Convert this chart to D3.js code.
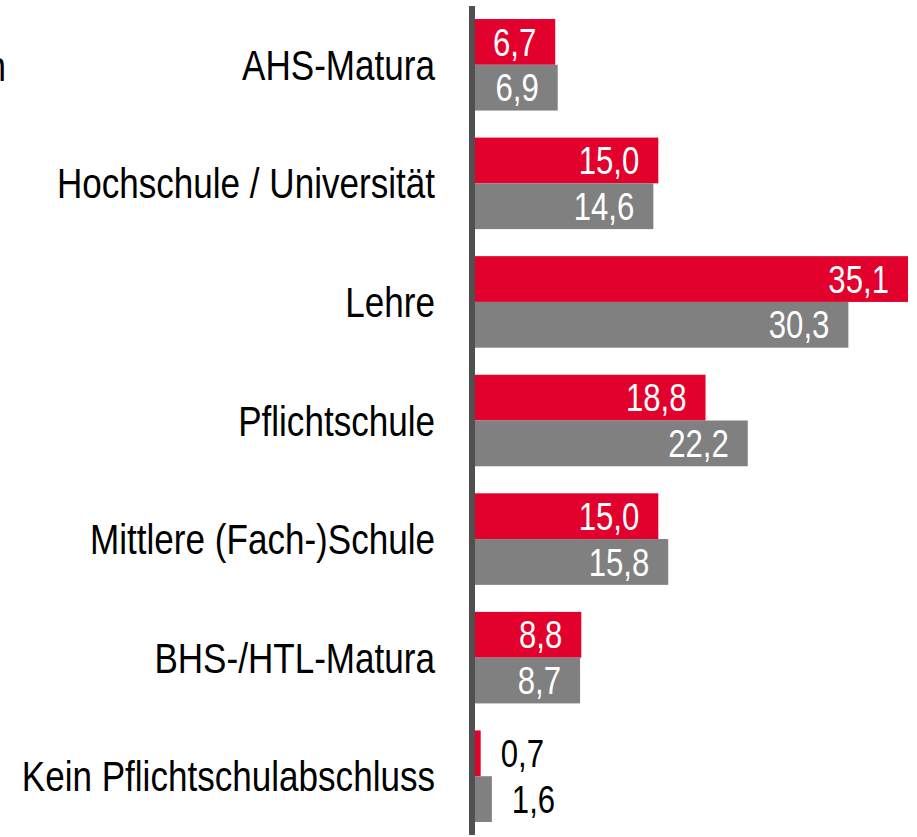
<!DOCTYPE html>
<html>
<head>
<meta charset="utf-8">
<script src="https://cdn.jsdelivr.net/npm/d3@7"></script>
<style>
  body { margin: 0; background: #fff; }
  svg { display: block; font-family: "Liberation Sans", Arial, sans-serif; }
</style>
</head>
<body>
<svg id="chart"></svg>
<script>
const width = 917;
const height = 837;

const categories = [
  "AHS-Matura",
  "Hochschule / Universität",
  "Lehre",
  "Pflichtschule",
  "Mittlere (Fach-)Schule",
  "BHS-/HTL-Matura",
  "Kein Pflichtschulabschluss"
];
const seriesNames = ["A", "B"];
const valuesA = [6.7, 15.0, 35.1, 18.8, 15.0, 8.8, 0.7];
const valuesB = [6.9, 14.6, 30.3, 22.2, 15.8, 8.7, 1.6];
const colors = ["#e2002c", "#808080"];

// no narrow font installed, so squeeze the regular one
const narrow = 0.835;

const rows = categories.map((c, i) => ({
  category: c,
  values: [
    { key: seriesNames[0], value: valuesA[i] },
    { key: seriesNames[1], value: valuesB[i] }
  ]
}));

const svg = d3.select("#chart")
  .attr("width", width)
  .attr("height", height);

const y = d3.scaleBand()
  .domain(categories)
  .range([5.5, 835.5])
  .paddingInner(0.228)
  .paddingOuter(0.114);

const ySub = d3.scaleBand()
  .domain(seriesNames)
  .range([0, y.bandwidth()]);

const x = d3.scaleLinear()
  .domain([0, 35.1])
  .range([472, 908]);

const fmt = v => d3.format(".1f")(v).replace(".", ",");

// cut-off legend text at the left edge
svg.append("text")
  .attr("transform", `translate(6,81) scale(${narrow},1)`)
  .attr("text-anchor", "end")
  .attr("font-size", 42)
  .attr("fill", "#000")
  .text("Frauen");

const group = svg.selectAll("g.row")
  .data(rows)
  .join("g")
  .attr("class", "row")
  .attr("transform", d => `translate(0,${y(d.category)})`);

group.selectAll("rect")
  .data(d => d.values)
  .join("rect")
  .attr("x", x(0))
  .attr("y", d => ySub(d.key))
  .attr("width", d => x(d.value) - x(0))
  .attr("height", ySub.bandwidth())
  .attr("fill", (d, i) => colors[i]);

group.selectAll("text.val")
  .data(d => d.values)
  .join("text")
  .attr("class", "val")
  .attr("transform", d => {
    const tx = d.value < 3 ? x(d.value) + 20 : x(d.value) - 19;
    const ty = ySub(d.key) + ySub.bandwidth() / 2;
    return `translate(${tx},${ty}) scale(0.82,1)`;
  })
  .attr("dy", "0.36em")
  .attr("text-anchor", d => d.value < 3 ? "start" : "end")
  .attr("font-size", 38)
  .attr("fill", d => d.value < 3 ? "#000" : "#fff")
  .text(d => fmt(d.value));

// category labels
svg.append("g")
  .selectAll("text")
  .data(categories)
  .join("text")
  .attr("transform", d => `translate(435,${y(d) + y.bandwidth() / 2}) scale(${narrow},1)`)
  .attr("dy", "0.36em")
  .attr("text-anchor", "end")
  .attr("font-size", 42)
  .attr("fill", "#000")
  .text(d => d);

// vertical axis line
svg.append("line")
  .attr("x1", 472)
  .attr("x2", 472)
  .attr("y1", 6)
  .attr("y2", 835)
  .attr("stroke", "#505050")
  .attr("stroke-width", 6);
</script>
</body>
</html>
